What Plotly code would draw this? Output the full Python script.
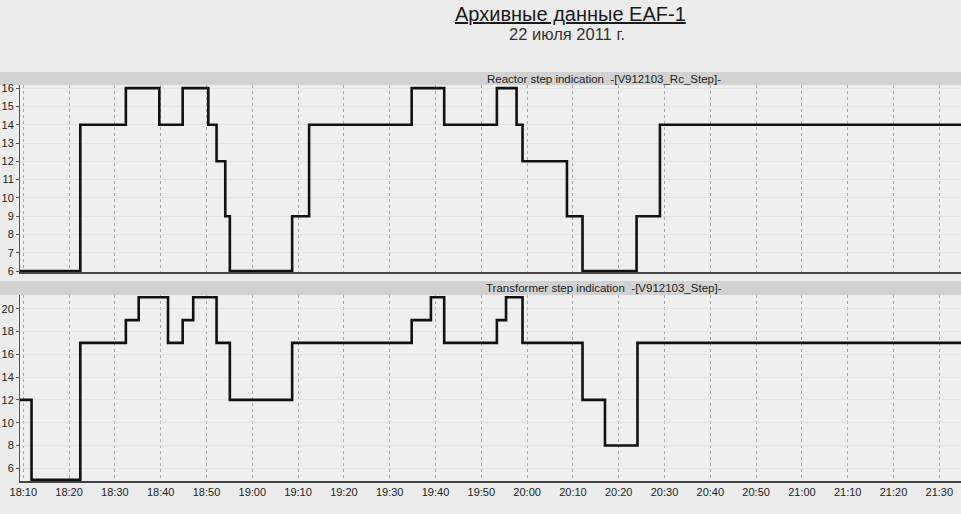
import plotly.graph_objects as go

DATE = "2011-07-22 "

# Reactor step indication (top panel)
rc_times = ["18:09:17", "18:22:27", "18:32:24", "18:39:42", "18:44:48", "18:50:24",
            "18:52:12", "18:54:06", "18:55:06", "19:08:42", "19:12:24", "19:34:48",
            "19:41:54", "19:53:24", "19:57:42", "19:59:00", "20:08:42", "20:12:06",
            "20:23:54", "20:29:00", "21:34:44"]
rc_values = [6, 14, 16, 14, 16, 14, 12, 9, 6, 9, 14, 16, 14, 16, 14, 12, 9, 6, 9, 14, 14]

# Transformer step indication (bottom panel)
tr_times = ["18:09:17", "18:11:48", "18:22:27", "18:32:24", "18:35:12", "18:41:36",
            "18:44:48", "18:47:06", "18:52:12", "18:55:06", "19:08:42", "19:34:48",
            "19:39:00", "19:41:54", "19:53:24", "19:55:24", "19:59:00", "20:12:06",
            "20:17:00", "20:24:06", "21:34:44"]
tr_values = [12, 5, 17, 19, 21, 17, 19, 21, 17, 12, 17, 19, 21, 17, 19, 21, 17, 12, 8, 17, 17]

rc_ticks = [6, 7, 8, 9, 10, 11, 12, 13, 14, 15, 16]
tr_ticks = [6, 8, 10, 12, 14, 16, 18, 20]

title_text = "Архивные данные EAF-1"
subtitle_text = "22 июля 2011 г."
rc_label = "Reactor step indication  -[V912103_Rc_Step]-"
tr_label = "Transformer step indication  -[V912103_Step]-"

W, H = 961, 514
def py(p):
    return 1 - p / H
def px(p):
    return p / W

FONT = "Liberation Sans, Arial, sans-serif"
x_range = [DATE + "18:09:17", DATE + "21:34:44"]

fig = go.Figure()
fig.add_trace(go.Scatter(x=[DATE + t for t in rc_times], y=rc_values, mode="lines",
                         line=dict(shape="hv", color="#111111", width=2.6),
                         xaxis="x", yaxis="y", showlegend=False))
fig.add_trace(go.Scatter(x=[DATE + t for t in tr_times], y=tr_values, mode="lines",
                         line=dict(shape="hv", color="#111111", width=2.6),
                         xaxis="x2", yaxis="y2", showlegend=False))

xcommon = dict(type="date", range=x_range, tick0=DATE + "18:10:00", dtick=600000,
               tickformat="%H:%M", showgrid=True, gridcolor="#a8a8a8", griddash="dot",
               gridwidth=1, showline=True, linecolor="#444444", linewidth=1.5,
               zeroline=False, domain=[px(20), 1.0], automargin=False,
               tickfont=dict(family=FONT, size=11, color="#222222"))
ycommon = dict(showgrid=True, gridcolor="#e3e3e3", gridwidth=1, showline=True,
               linecolor="#555555", linewidth=1, ticks="outside", ticklen=3,
               tickcolor="#555555", zeroline=False, automargin=False,
               tickfont=dict(family=FONT, size=11, color="#222222"))

fig.update_layout(
    width=W, height=H,
    margin=dict(l=0, r=0, t=0, b=0, autoexpand=False),
    paper_bgcolor="#ececec",
    plot_bgcolor="#efefef",
    xaxis=dict(**xcommon, anchor="y", showticklabels=False, matches="x2"),
    xaxis2=dict(**xcommon, anchor="y2"),
    yaxis=dict(**ycommon, domain=[py(272), py(85)], range=[5.95, 16.17],
               tickvals=rc_ticks, anchor="x"),
    yaxis2=dict(**ycommon, domain=[py(481), py(295)], range=[4.89, 21.2],
                tickvals=tr_ticks, anchor="x2"),
    shapes=[
        dict(type="rect", xref="paper", yref="paper", x0=0, x1=1,
             y0=py(85), y1=py(72), fillcolor="#d2d2d2", line=dict(width=0), layer="below"),
        dict(type="rect", xref="paper", yref="paper", x0=0, x1=1,
             y0=py(295), y1=py(281), fillcolor="#d2d2d2", line=dict(width=0), layer="below"),
    ],
    annotations=[
        dict(text=title_text, xref="paper", yref="paper", x=px(570), y=py(14),
             xanchor="center", yanchor="middle", showarrow=False,
             font=dict(family=FONT, size=20, color="#1a1a1a", lineposition="under")),
        dict(text=subtitle_text, xref="paper", yref="paper", x=px(567), y=py(34),
             xanchor="center", yanchor="middle", showarrow=False,
             font=dict(family=FONT, size=16.5, color="#333333")),
        dict(text=rc_label, xref="paper", yref="paper", x=px(485), y=py(78.5),
             xanchor="left", yanchor="middle", showarrow=False,
             font=dict(family=FONT, size=11.5, color="#222222")),
        dict(text=tr_label, xref="paper", yref="paper", x=px(484), y=py(288),
             xanchor="left", yanchor="middle", showarrow=False,
             font=dict(family=FONT, size=11.5, color="#222222")),
    ],
)

fig.write_html("out.html", config={"displayModeBar": False},
               post_script="document.body.style.margin='0';document.body.style.overflow='hidden';")
